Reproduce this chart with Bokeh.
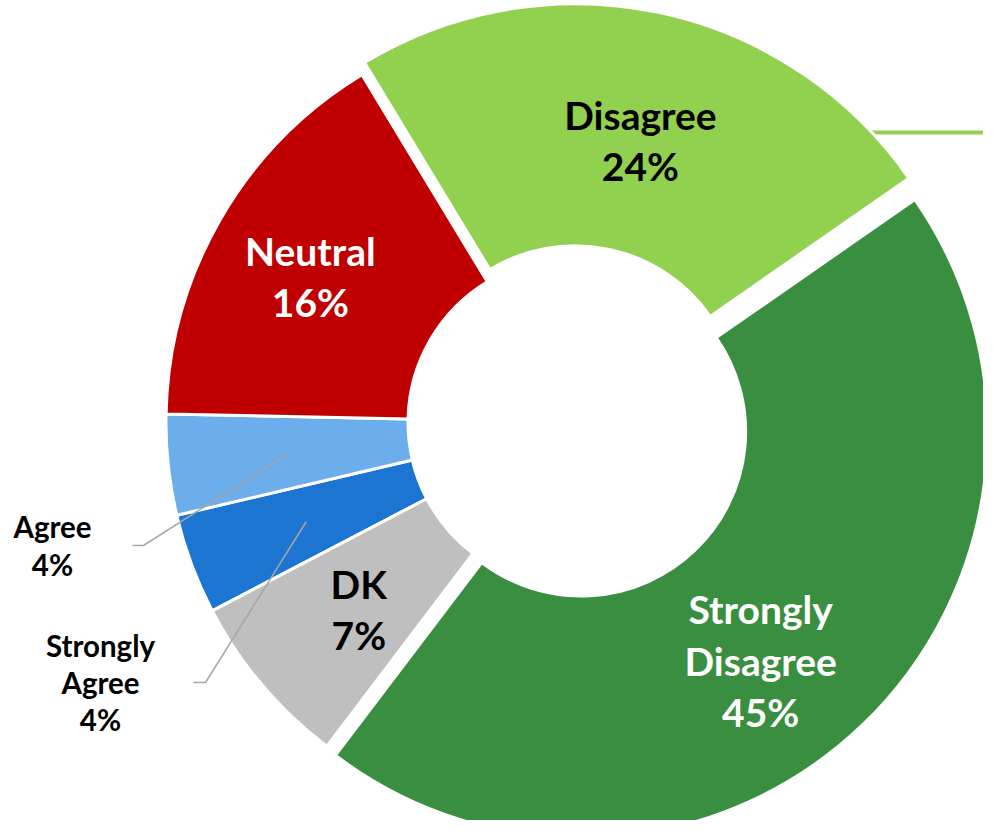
import math
from bokeh.plotting import figure
from bokeh.models import Range1d, ColumnDataSource
from bokeh.core.properties import value
from bokeh.embed import file_html
from bokeh.resources import INLINE

# ---- data (clockwise order, first slice starts at start_angle) ----
categories = ["Strongly Agree", "Agree", "Neutral", "Disagree", "Strongly Disagree", "DK"]
shares = [4, 4, 16, 24, 45, 7]
label_lines = ["Strongly\nAgree", "Agree", "Neutral", "Disagree", "Strongly\nDisagree", "DK"]
colors = ["#1C75D1", "#6CADEB", "#C00000", "#92D050", "#3A8E40", "#BFBFBF"]
label_colors = ["#000000", "#000000", "#FFFFFF", "#000000", "#FFFFFF", "#000000"]

# ---- layout / style ----
W, H = 983, 820
start_angle = 242.4          # degrees clockwise from 12 o'clock
cx, cy = 572, 414            # centre (data units == pixels)
R_in, R_out = 164.5, 406.5
explode = [0, 0, 0, 12.5, 12.5, 0]
inside = [False, False, True, True, True, True]
label_r = [284, 284, 300, 278, 291, 284]
label_dt = [0, 0, -0.9, 1.6, 5.7, -1.0]
# outside labels: (text centre x, text centre y, elbow x, end x) in data units
outside_pos = {0: (100, 154, 205, 193), 1: (52, 291, 143, 132)}

p = figure(width=W, height=H, x_range=Range1d(0, W), y_range=Range1d(836 - H, 836),
           output_backend="svg", toolbar_location=None, min_border=0)
p.axis.visible = False
p.grid.visible = False
p.outline_line_color = None
p.background_fill_color = "white"

total = sum(shares)
xs, ys, st, en, mids = [], [], [], [], []
acc = start_angle
for s, d in zip(shares, explode):
    t1 = acc
    t2 = acc + 360.0 * s / total
    acc = t2
    m = (t1 + t2) / 2
    mids.append(m)
    xs.append(cx + d * math.sin(math.radians(m)))
    ys.append(cy + d * math.cos(math.radians(m)))
    st.append(math.radians(90 - t2))
    en.append(math.radians(90 - t1))

# connector stubs running off the right edge (drawn under the slices)
i_dis = categories.index("Disagree")
i_sd = categories.index("Strongly Disagree")
p.segment(x0=[xs[i_dis] + 200, xs[i_sd] + 300], y0=[704, 388],
          x1=[1010, 1010], y1=[704, 388],
          line_color=[colors[i_dis], colors[i_sd]], line_width=4)

src = ColumnDataSource(dict(x=xs, y=ys, start=st, end=en, color=colors))
p.annular_wedge(x="x", y="y", inner_radius=R_in, outer_radius=R_out,
                start_angle="start", end_angle="end", fill_color="color",
                line_color="white", line_width=3, source=src)

# inside labels
tx, ty, tt, tc = [], [], [], []
for i in range(len(categories)):
    if not inside[i]:
        continue
    a = math.radians(mids[i] + label_dt[i])
    tx.append(xs[i] + label_r[i] * math.sin(a))
    ty.append(ys[i] + label_r[i] * math.cos(a))
    tt.append(f"{label_lines[i]}\n{shares[i]}%")
    tc.append(label_colors[i])
p.text(x=tx, y=ty, text=tt, text_color=tc, text_font=value("Lato"),
       text_font_style="bold", text_font_size="39px", text_align="center",
       text_baseline="middle", text_line_height=1.11)

# outside labels with leader lines
for i, (lx, ly, ex, endx) in outside_pos.items():
    a = math.radians(mids[i])
    px = xs[i] + 284 * math.sin(a)
    py = ys[i] + 284 * math.cos(a)
    p.line(x=[endx, ex, px], y=[ly, ly, py], line_color="#A6A6A6", line_width=1.5)
    p.text(x=[lx], y=[ly], text=[f"{label_lines[i]}\n{shares[i]}%"],
           text_color=label_colors[i], text_font=value("Lato"), text_font_style="bold",
           text_font_size="29.5px", text_align="center", text_baseline="middle",
           text_line_height=1.07)

open("out.html", "w").write(file_html(p, INLINE))
